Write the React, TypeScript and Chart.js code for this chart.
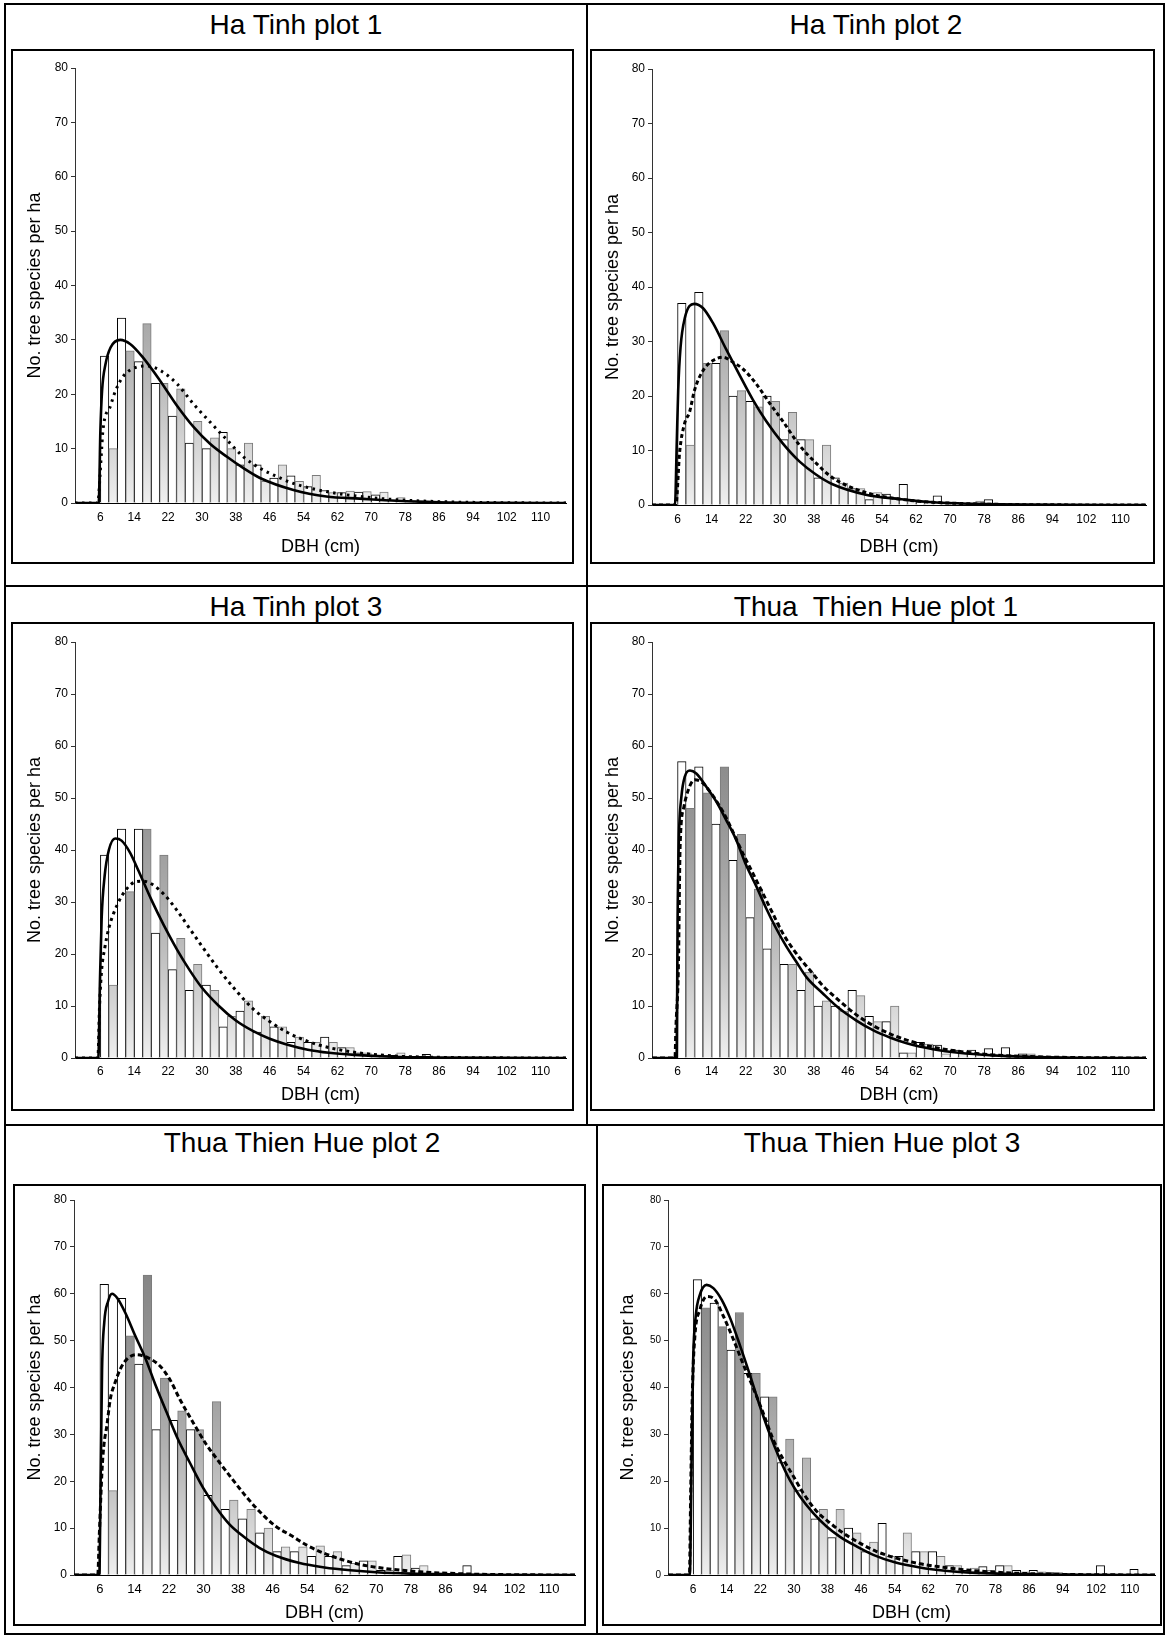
import React, { useEffect, useRef } from "react";
import { Chart, registerables } from "chart.js";

Chart.register(...registerables);

type Pt = [number, number];

// ---- shared axis settings -------------------------------------------------
const X_TICKS = [6, 14, 22, 30, 38, 46, 54, 62, 70, 78, 86, 94, 102, 110];
const X_MAX = 116;
const Y_MAX = 80;
const Y_STEP = 10;
const X_TITLE = "DBH (cm)";
const Y_TITLE = "No. tree species per ha";

// Bars are 2 cm DBH classes; the white series sits on classes 6-8, 10-12, ...
// and the shaded series on 8-10, 12-14, ...
const WHITE_FIRST_MID = 7;
const GREY_FIRST_MID = 9;
const CLASS_STEP = 4;

// ---- Ha Tinh plot 1 -------------------------------------------------------
const HT1_WHITE = [27, 34, 26, 22, 16, 11, 10, 13, 7, 7, 4.6, 5, 3, 2.3, 1.9, 2.0, 1.5, 0.5, 0.3];
const HT1_GREY = [10, 28, 33, 22, 21, 15, 12, 10, 11, 4, 7, 4, 5.1, 1.9, 2.2, 2.1, 2.0, 1.0];
const HT1_SOLID: Pt[] = [[0, 0], [5.6, 0], [6.0, 13.4], [6.4, 20.7], [7.2, 25.5], [8.4, 28.6], [10.7, 30.0], [13.1, 29.2], [15.8, 27.0], [20.1, 22.5], [24.1, 17.9], [28.0, 14.0], [31.9, 10.9], [35.9, 8.5], [39.8, 6.4], [43.7, 4.6], [51.6, 2.4], [59.4, 1.2], [67.3, 0.8], [76, 0.4], [86, 0.15], [100, 0.03], [116, 0]];
const HT1_DOTTED: Pt[] = [[0, 0], [5.4, 0], [5.9, 5], [6.3, 10], [6.6, 13.4], [8.4, 17.9], [9.6, 20.7], [11.5, 23.4], [13.9, 24.8], [17.0, 25.2], [20.1, 24.4], [24.1, 21.9], [28.0, 18.2], [31.9, 14.9], [35.9, 11.6], [39.8, 8.5], [43.7, 6.4], [47.6, 4.9], [51.6, 3.6], [59.4, 2.1], [67.3, 1.2], [76, 0.6], [86, 0.25], [100, 0.06], [116, 0]];

// ---- Ha Tinh plot 2 -------------------------------------------------------
const HT2_WHITE = [37, 39, 26, 20, 19, 20, 12, 12, 5, 5, 3, 1, 2, 3.8, 0.6, 1.7, 0.5, 0.3, 1.0];
const HT2_GREY = [11, 26, 32, 21, 18, 19, 17, 12, 11, 4, 3, 2.3, 1.4, 0.7, 0.6, 0.5, 0.3, 0.7];
const HT2_SOLID: Pt[] = [[0, 0], [5.4, 0], [5.8, 11], [6.15, 21], [6.7, 28.9], [7.7, 34.3], [9.9, 36.9], [12.0, 36.1], [14.3, 33.4], [17.4, 28.6], [20.6, 23.8], [23.7, 19.3], [26.8, 15.4], [30.7, 11.3], [34.6, 8.0], [38.5, 5.6], [42.4, 3.8], [50.2, 1.9], [58.0, 1.1], [66, 0.5], [76, 0.2], [88, 0.06], [116, 0]];
const HT2_DOTTED: Pt[] = [[0, 0], [5.6, 0], [6.5, 9.8], [7.7, 15.1], [8.8, 17], [10.0, 21.1], [12.0, 24.7], [14.3, 26.5], [16.7, 27.1], [19.0, 26.2], [21.3, 25.0], [24.4, 22.3], [27.6, 18.7], [30.7, 15.4], [34.6, 11.0], [38.5, 7.7], [42.4, 5.0], [50.2, 2.3], [58.0, 1.1], [66, 0.5], [76, 0.2], [88, 0.06], [116, 0]];

// ---- Ha Tinh plot 3 -------------------------------------------------------
const HT3_WHITE = [39, 44, 44, 24, 17, 13, 14, 6, 9, 5, 6, 3, 3, 4, 2, 1, 0.5, 0.5, 0.3, 0.7];
const HT3_GREY = [14, 32, 44, 39, 23, 18, 13, 8, 11, 8, 6, 4, 3, 3, 2, 1, 0.5, 1.0, 0.3];
const HT3_SOLID: Pt[] = [[0, 0], [5.5, 0], [5.9, 15], [6.3, 27], [7, 35], [8, 40], [9.5, 42.2], [11, 41.8], [13, 39.5], [15, 36], [18, 30.5], [21, 25.5], [24, 21], [27, 17], [30, 13.5], [34, 10], [38, 7.2], [42, 5.2], [46, 3.7], [50, 2.6], [55, 1.6], [60, 1.0], [66, 0.6], [75, 0.25], [85, 0.1], [100, 0.02], [116, 0]];
const HT3_DOTTED: Pt[] = [[0, 0], [5.4, 0], [5.8, 10], [6.3, 17], [7, 21], [8, 25], [10, 29.5], [12, 32.3], [14, 33.8], [16, 34.0], [18, 33.5], [21, 31.5], [24, 28.5], [27, 25], [30, 21.5], [34, 17], [38, 13], [42, 9.5], [46, 7], [50, 5], [55, 3.2], [60, 2], [66, 1.1], [75, 0.4], [85, 0.15], [100, 0.03], [116, 0]];

// ---- Thua Thien Hue plot 1 ------------------------------------------------
const TTH1_WHITE = [57, 56, 45, 38, 27, 21, 18, 13, 10, 10, 13, 8, 7, 1, 3, 2.5, 1.5, 1.5, 1.8, 2, 0.8];
const TTH1_GREY = [48, 51, 56, 43, 32.5, 26, 18, 16.5, 11, 9, 12, 7, 10, 1, 2.7, 0.8, 1, 0.8, 0.5, 0.5, 0.8];
const TTH1_SOLID: Pt[] = [[0, 0], [5.8, 0], [6.0, 25.9], [6.3, 41.9], [6.9, 50.2], [7.7, 54.1], [8.9, 55.3], [10.4, 54.7], [12.8, 52.1], [15.1, 49.3], [17.4, 45.8], [19.8, 41.9], [22.1, 37.1], [24.5, 33.0], [26.8, 28.8], [29.1, 25.0], [31.5, 21.5], [33.8, 18.6], [36.4, 15.4], [40, 12.5], [44, 9.5], [48, 7.2], [52, 5.3], [56, 3.9], [60, 2.8], [66, 1.7], [72, 1.0], [80, 0.5], [90, 0.2], [100, 0.05], [116, 0]];
const TTH1_DOTTED: Pt[] = [[0, 0], [5.4, 0], [5.6, 5.5], [6.2, 17.6], [6.6, 40.6], [7.5, 48.3], [8.5, 51.5], [10.0, 53.5], [11.6, 53.1], [13.9, 50.9], [16.7, 47.3], [19.0, 43.5], [21.3, 39.4], [23.7, 35.5], [26.0, 31.7], [28.3, 27.9], [30.7, 24.0], [33.0, 21.1], [35.3, 18.6], [37.6, 16.4], [40, 14], [44, 11], [48, 8.3], [52, 6.2], [56, 4.6], [60, 3.4], [66, 2.1], [72, 1.3], [80, 0.6], [90, 0.25], [100, 0.08], [116, 0]];

// ---- Thua Thien Hue plot 2 ------------------------------------------------
const TTH2_WHITE = [62, 59, 45, 31, 33, 31, 17, 14, 12, 9, 5, 5, 4, 4, 2, 3, 1, 4, 1.5, 0.3, 0.3, 2];
const TTH2_GREY = [18, 51, 64, 42, 35, 31, 37, 16, 14, 10, 6, 6, 6.2, 5, 2.5, 3, 1, 4.3, 2, 0.5, 0.3];
const TTH2_SOLID: Pt[] = [[0, 0], [5.85, 0], [6.2, 22.5], [6.5, 43.9], [7.0, 53.8], [7.9, 58.4], [8.8, 60.0], [10.0, 59.1], [11.9, 55.9], [14.2, 51.0], [16.5, 46.3], [18.8, 40.7], [21.5, 34.6], [24.1, 28.9], [26.8, 24.0], [29.9, 18.6], [32.9, 14.4], [36.0, 10.8], [39.1, 8.3], [42.9, 5.8], [46.7, 4.1], [52, 2.6], [58, 1.6], [64, 1.0], [70, 0.6], [78, 0.3], [86, 0.15], [95, 0.05], [116, 0]];
const TTH2_DOTTED: Pt[] = [[0, 0], [5.5, 0], [5.85, 8.3], [6.5, 22.5], [6.9, 27.5], [7.6, 31.8], [8.4, 37.5], [9.5, 41.0], [10.7, 43.9], [12.2, 46.0], [14.5, 47.0], [17.2, 46.3], [19.9, 44.6], [22.2, 41.7], [24.5, 37.5], [27.6, 32.5], [30.6, 27.9], [33.7, 24.0], [36.7, 20.4], [39.8, 16.8], [42.9, 13.6], [46.7, 10.4], [50.5, 8.3], [54, 6.3], [58, 4.6], [62, 3.3], [66, 2.3], [72, 1.4], [80, 0.7], [90, 0.25], [100, 0.08], [116, 0]];

// ---- Thua Thien Hue plot 3 ------------------------------------------------
const TTH3_WHITE = [63, 58, 48, 43, 38, 24, 18, 12, 8, 10, 5, 11, 4, 5, 5, 2, 1, 1.8, 2, 1, 1, 0.5, 0.3, 0, 2, 0, 1.2];
const TTH3_GREY = [57, 53, 56, 43, 38, 29, 25, 14, 14, 9, 7, 4, 9, 5, 4, 2, 1.5, 1, 2, 0.7, 0.7, 0.5];
const TTH3_SOLID: Pt[] = [[0, 0], [5.2, 0], [5.6, 23.1], [6.0, 45.9], [6.6, 55.2], [7.6, 59.8], [9.2, 61.9], [10.8, 61.2], [12.8, 58.7], [14.8, 54.8], [17.1, 49.1], [19.5, 42.7], [21.9, 36.0], [24.3, 29.9], [26.7, 24.6], [29.0, 20.3], [31.4, 16.8], [34.6, 13.2], [37.7, 10.4], [40.9, 8.2], [44.9, 6.1], [48.9, 4.3], [54, 2.7], [60, 1.6], [66, 0.9], [72, 0.5], [80, 0.25], [90, 0.1], [100, 0.03], [116, 0]];
const TTH3_DOTTED: Pt[] = [[0, 0], [5.1, 0], [5.4, 17.4], [5.8, 38.8], [6.4, 50.9], [7.6, 56.6], [9.2, 59.4], [11.2, 58.7], [13.2, 55.2], [15.6, 50.2], [18.0, 44.8], [20.3, 39.9], [22.7, 34.5], [25.1, 28.8], [27.5, 24.6], [29.9, 21.0], [32.2, 17.5], [35.4, 13.6], [38.6, 11.1], [41.8, 8.9], [45.7, 6.8], [49.7, 5.0], [54, 3.7], [60, 2.4], [66, 1.6], [72, 1.0], [80, 0.5], [90, 0.2], [100, 0.07], [116, 0]];

// ---- page layout (pixels) -------------------------------------------------
interface Geo {
  box: { x: number; y: number; w: number; h: number };
  plot: { l: number; r: number; t: number; b: number };
  tickGap: number;
  xTitleY: number;
  yTitleX: number;
  title: { cx: number; cy: number };
  tickFamily: string;
  xTickSize: number;
  yTickSize: number;
}

interface PanelSpec {
  name: string;
  white: number[];
  grey: number[];
  solid: Pt[];
  dotted: Pt[];
  dash: number[];
  geo: Geo;
}

const SANS = '"Liberation Sans", Arial, sans-serif';
const NARROW = '"Liberation Sans Narrow", "Liberation Sans", Arial, sans-serif';

const PANELS: PanelSpec[] = [
  {
    name: "Ha Tinh plot 1", white: HT1_WHITE, grey: HT1_GREY, solid: HT1_SOLID, dotted: HT1_DOTTED, dash: [2.5, 4.5],
    geo: { box: { x: 11, y: 49, w: 563, h: 515 }, plot: { l: 75, r: 566, t: 68, b: 503 }, tickGap: 7, xTitleY: 547, yTitleX: 35.5, title: { cx: 296, cy: 25 }, tickFamily: SANS, xTickSize: 12, yTickSize: 12 },
  },
  {
    name: "Ha Tinh plot 2", white: HT2_WHITE, grey: HT2_GREY, solid: HT2_SOLID, dotted: HT2_DOTTED, dash: [4, 3],
    geo: { box: { x: 590, y: 49, w: 565, h: 515 }, plot: { l: 652, r: 1146, t: 69, b: 505 }, tickGap: 7, xTitleY: 547, yTitleX: 613, title: { cx: 876, cy: 25 }, tickFamily: SANS, xTickSize: 12, yTickSize: 12 },
  },
  {
    name: "Ha Tinh plot 3", white: HT3_WHITE, grey: HT3_GREY, solid: HT3_SOLID, dotted: HT3_DOTTED, dash: [3, 4],
    geo: { box: { x: 11, y: 622, w: 563, h: 489 }, plot: { l: 75, r: 566, t: 642, b: 1058 }, tickGap: 6, xTitleY: 1095, yTitleX: 35.5, title: { cx: 296, cy: 607 }, tickFamily: SANS, xTickSize: 12, yTickSize: 12 },
  },
  {
    name: "Thua  Thien Hue plot 1", white: TTH1_WHITE, grey: TTH1_GREY, solid: TTH1_SOLID, dotted: TTH1_DOTTED, dash: [5, 3],
    geo: { box: { x: 590, y: 622, w: 565, h: 489 }, plot: { l: 652, r: 1146, t: 642, b: 1058 }, tickGap: 6, xTitleY: 1095, yTitleX: 613, title: { cx: 876, cy: 607 }, tickFamily: SANS, xTickSize: 12, yTickSize: 12 },
  },
  {
    name: "Thua Thien Hue plot 2", white: TTH2_WHITE, grey: TTH2_GREY, solid: TTH2_SOLID, dotted: TTH2_DOTTED, dash: [5, 3],
    geo: { box: { x: 13, y: 1184, w: 573, h: 442 }, plot: { l: 74, r: 575, t: 1200, b: 1575 }, tickGap: 7, xTitleY: 1613, yTitleX: 35, title: { cx: 302, cy: 1143 }, tickFamily: NARROW, xTickSize: 13, yTickSize: 12 },
  },
  {
    name: "Thua Thien Hue plot 3", white: TTH3_WHITE, grey: TTH3_GREY, solid: TTH3_SOLID, dotted: TTH3_DOTTED, dash: [5, 3],
    geo: { box: { x: 602, y: 1184, w: 560, h: 442 }, plot: { l: 668, r: 1155, t: 1200, b: 1575 }, tickGap: 7, xTitleY: 1613, yTitleX: 628, title: { cx: 882, cy: 1143 }, tickFamily: NARROW, xTickSize: 12, yTickSize: 10 },
  },
];

const toBars = (values: number[], firstMid: number) =>
  values
    .map((v, i) => ({ x: firstMid + CLASS_STEP * i, y: v }))
    .filter((p) => p.y > 0);

const toLine = (pts: Pt[]) => pts.map(([x, y]) => ({ x, y }));

function DistributionChart({ spec }: { spec: PanelSpec }) {
  const ref = useRef<HTMLCanvasElement | null>(null);
  const g = spec.geo;
  const border = 2;
  const cLeft = g.box.x + border;
  const cTop = g.box.y + border;
  const cw = g.box.w - border * 2;
  const ch = g.box.h - border * 2;

  useEffect(() => {
    if (!ref.current) return;
    const padTop = g.plot.t - cTop;
    const padRight = cLeft + cw - g.plot.r;
    const yWidth = g.plot.l - cLeft;
    const xHeight = cTop + ch - g.plot.b;
    const titleLH = 18 * 1.2;
    const yTitlePad = g.yTitleX - cLeft - titleLH / 2;
    const xTitlePad = cTop + ch - g.xTitleY - titleLH / 2;

    // shaded bars: vertical ramp fixed to the value axis, darker toward the top
    const shade = (ctx: any) => {
      const chart = ctx.chart;
      const ys = chart.scales && chart.scales.y;
      if (!chart.chartArea || !ys) return "#cccccc";
      const grad = chart.ctx.createLinearGradient(0, ys.getPixelForValue(0), 0, ys.getPixelForValue(Y_MAX));
      grad.addColorStop(0, "#efefef");
      grad.addColorStop(0.125, "#d6d6d6");
      grad.addColorStop(0.25, "#bfbfbf");
      grad.addColorStop(0.375, "#adadad");
      grad.addColorStop(0.5625, "#979797");
      grad.addColorStop(0.75, "#898989");
      grad.addColorStop(1, "#7a7a7a");
      return grad;
    };

    const chart = new Chart(ref.current, {
      type: "bar",
      data: {
        datasets: [
          {
            type: "line",
            data: toLine(spec.solid),
            borderColor: "#000000",
            borderWidth: 2.6,
            pointRadius: 0,
            cubicInterpolationMode: "monotone",
            fill: false,
            order: 0,
          } as any,
          {
            type: "line",
            data: toLine(spec.dotted),
            borderColor: "#000000",
            borderWidth: 3,
            borderDash: spec.dash,
            pointRadius: 0,
            cubicInterpolationMode: "monotone",
            fill: false,
            order: 0,
          } as any,
          {
            type: "bar",
            data: toBars(spec.grey, GREY_FIRST_MID),
            backgroundColor: shade,
            borderColor: "#7b7b7b",
            borderWidth: 1,
            grouped: false,
            barPercentage: 1,
            categoryPercentage: 1,
            order: 1,
          } as any,
          {
            type: "bar",
            data: toBars(spec.white, WHITE_FIRST_MID),
            backgroundColor: "#ffffff",
            borderColor: "#000000",
            borderWidth: 1,
            grouped: false,
            barPercentage: 1,
            categoryPercentage: 1,
            order: 2,
          } as any,
        ],
      },
      options: {
        responsive: false,
        maintainAspectRatio: false,
        animation: false,
        events: [],
        layout: { padding: { top: padTop, right: padRight, left: 0, bottom: 0 } },
        plugins: { legend: { display: false }, tooltip: { enabled: false } },
        scales: {
          x: {
            type: "linear",
            min: 0,
            max: X_MAX,
            offset: false,
            grid: { display: false, drawTicks: false },
            border: { display: true, color: "#000000", width: 1 },
            ticks: {
              autoSkip: false,
              maxRotation: 0,
              padding: g.tickGap,
              color: "#000000",
              font: { family: g.tickFamily, size: g.xTickSize },
            },
            afterBuildTicks: (s: any) => {
              s.ticks = X_TICKS.map((v) => ({ value: v }));
            },
            afterFit: (s: any) => {
              s.height = xHeight;
            },
            title: {
              display: true,
              text: X_TITLE,
              color: "#000000",
              font: { family: SANS, size: 18 },
              padding: { top: 0, bottom: xTitlePad },
            },
          },
          y: {
            min: 0,
            max: Y_MAX,
            grid: { drawOnChartArea: false, drawTicks: true, tickLength: 4, color: "#333333" },
            border: { display: true, color: "#333333", width: 1 },
            ticks: {
              stepSize: Y_STEP,
              padding: 3,
              color: "#000000",
              font: { family: g.tickFamily, size: g.yTickSize },
            },
            afterFit: (s: any) => {
              s.width = yWidth;
            },
            title: {
              display: true,
              text: Y_TITLE,
              color: "#000000",
              font: { family: SANS, size: 18 },
              padding: { top: yTitlePad, bottom: 0 },
            },
          },
        },
      } as any,
    });
    return () => chart.destroy();
  }, []);

  return (
    <>
      <div
        style={{
          position: "absolute",
          left: g.title.cx - 300,
          top: g.title.cy - 17,
          width: 600,
          height: 34,
          lineHeight: "34px",
          textAlign: "center",
          whiteSpace: "pre",
          fontFamily: SANS,
          fontSize: 28,
          color: "#000",
        }}
      >
        {spec.name}
      </div>
      <div
        style={{
          position: "absolute",
          left: g.box.x,
          top: g.box.y,
          width: g.box.w,
          height: g.box.h,
          boxSizing: "border-box",
          border: `${border}px solid #000`,
          background: "#fff",
        }}
      >
        <canvas ref={ref} width={cw} height={ch} style={{ display: "block", width: cw, height: ch }} />
      </div>
    </>
  );
}

// frame lines of the 3 x 2 grid
const FRAME = { left: 4, top: 3, right: 1165, bottom: 1635 };
const ROW_LINES = [586, 1125];
const COL_LINES = [
  { x: 587, y0: 3, y1: 1125 },
  { x: 597, y0: 1125, y1: 1635 },
];

export default function App() {
  const line = 2;
  return (
    <div
      style={{
        position: "absolute",
        left: 0,
        top: 0,
        width: 1167,
        height: 1637,
        background: "#ffffff",
        overflow: "hidden",
      }}
    >
      <div
        style={{
          position: "absolute",
          left: FRAME.left,
          top: FRAME.top,
          width: FRAME.right - FRAME.left,
          height: FRAME.bottom - FRAME.top,
          boxSizing: "border-box",
          border: `${line}px solid #000`,
        }}
      />
      {ROW_LINES.map((y) => (
        <div key={`r${y}`} style={{ position: "absolute", left: FRAME.left, top: y - 1, width: FRAME.right - FRAME.left, height: line, background: "#000" }} />
      ))}
      {COL_LINES.map((c) => (
        <div key={`c${c.x}`} style={{ position: "absolute", left: c.x - 1, top: c.y0, width: line, height: c.y1 - c.y0, background: "#000" }} />
      ))}
      {PANELS.map((p) => (
        <DistributionChart key={p.name} spec={p} />
      ))}
    </div>
  );
}
